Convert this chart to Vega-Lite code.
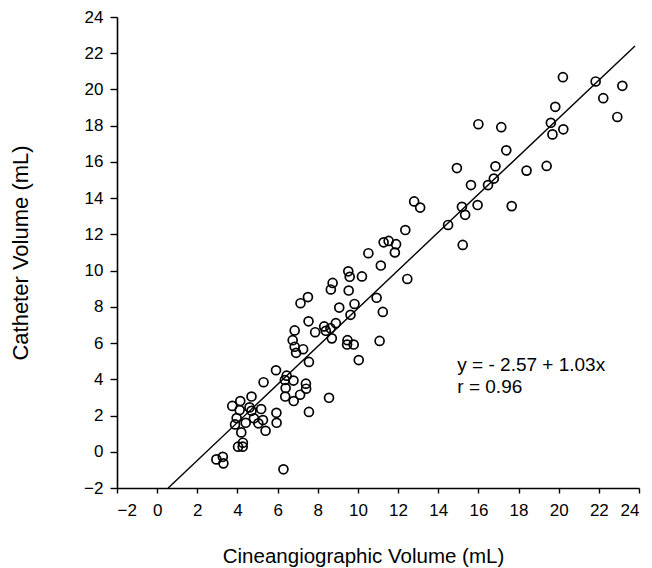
{
  "$schema": "https://vega.github.io/schema/vega-lite/v6.json",
  "width": 522,
  "height": 471,
  "autosize": {"type": "none"},
  "padding": {"left": 117, "top": 17, "right": 13, "bottom": 80},
  "background": "white",
  "config": {
    "view": {"stroke": null},
    "font": "Liberation Sans",
    "axis": {
      "grid": false,
      "domainColor": "black",
      "domainWidth": 1.6,
      "tickColor": "black",
      "tickWidth": 1.4,
      "labelColor": "black",
      "titleColor": "black",
      "labelFont": "Liberation Sans",
      "titleFont": "Liberation Sans",
      "labelFontSize": 17,
      "labelOverlap": false,
      "labelBound": false,
      "titleFontWeight": "normal"
    }
  },
  "datasets": {
    "pts": [
      {"cine": 2.95, "cath": -0.42}, {"cine": 3.27, "cath": -0.28}, {"cine": 3.3, "cath": -0.64}, {"cine": 6.29, "cath": -0.97},
      {"cine": 4.03, "cath": 0.28}, {"cine": 4.26, "cath": 0.28}, {"cine": 4.27, "cath": 0.5}, {"cine": 4.19, "cath": 1.07},
      {"cine": 3.74, "cath": 2.53}, {"cine": 4.14, "cath": 2.8}, {"cine": 4.11, "cath": 2.3}, {"cine": 3.96, "cath": 1.86},
      {"cine": 3.88, "cath": 1.51}, {"cine": 4.41, "cath": 1.6}, {"cine": 4.7, "cath": 3.05}, {"cine": 4.6, "cath": 2.45},
      {"cine": 4.7, "cath": 2.26}, {"cine": 4.82, "cath": 1.85}, {"cine": 5.04, "cath": 1.57}, {"cine": 5.18, "cath": 2.36},
      {"cine": 5.27, "cath": 1.75}, {"cine": 5.4, "cath": 1.16}, {"cine": 5.3, "cath": 3.84}, {"cine": 5.94, "cath": 2.15},
      {"cine": 5.95, "cath": 1.6}, {"cine": 5.92, "cath": 4.5}, {"cine": 6.36, "cath": 3.96}, {"cine": 6.45, "cath": 4.2},
      {"cine": 6.4, "cath": 3.52}, {"cine": 6.38, "cath": 3.05}, {"cine": 6.79, "cath": 3.93}, {"cine": 6.8, "cath": 2.8},
      {"cine": 7.12, "cath": 3.15}, {"cine": 7.41, "cath": 3.76}, {"cine": 7.42, "cath": 3.48}, {"cine": 7.56, "cath": 2.2},
      {"cine": 7.56, "cath": 4.96}, {"cine": 8.56, "cath": 2.98}, {"cine": 6.75, "cath": 6.16}, {"cine": 6.85, "cath": 6.7},
      {"cine": 6.85, "cath": 5.8}, {"cine": 6.92, "cath": 5.46}, {"cine": 7.27, "cath": 5.66}, {"cine": 7.14, "cath": 8.2},
      {"cine": 7.51, "cath": 8.54}, {"cine": 7.54, "cath": 7.2}, {"cine": 7.87, "cath": 6.6}, {"cine": 8.32, "cath": 6.92},
      {"cine": 8.4, "cath": 6.68}, {"cine": 8.63, "cath": 6.82}, {"cine": 8.7, "cath": 6.26}, {"cine": 8.9, "cath": 7.1},
      {"cine": 9.07, "cath": 7.96}, {"cine": 8.65, "cath": 8.96}, {"cine": 8.74, "cath": 9.32}, {"cine": 9.63, "cath": 7.56},
      {"cine": 9.83, "cath": 8.16}, {"cine": 9.54, "cath": 8.9}, {"cine": 9.48, "cath": 6.16}, {"cine": 9.46, "cath": 5.92},
      {"cine": 9.79, "cath": 5.92}, {"cine": 10.04, "cath": 5.06}, {"cine": 9.52, "cath": 9.96}, {"cine": 9.59, "cath": 9.66},
      {"cine": 10.2, "cath": 9.68}, {"cine": 10.52, "cath": 10.96}, {"cine": 10.93, "cath": 8.5}, {"cine": 11.24, "cath": 7.72},
      {"cine": 11.08, "cath": 6.12}, {"cine": 11.14, "cath": 10.28}, {"cine": 11.28, "cath": 11.56}, {"cine": 11.53, "cath": 11.64},
      {"cine": 11.9, "cath": 11.46}, {"cine": 11.84, "cath": 11.0}, {"cine": 12.36, "cath": 12.24}, {"cine": 12.46, "cath": 9.54},
      {"cine": 12.8, "cath": 13.82}, {"cine": 13.1, "cath": 13.48}, {"cine": 14.49, "cath": 12.52}, {"cine": 14.93, "cath": 15.66},
      {"cine": 15.18, "cath": 13.52}, {"cine": 15.34, "cath": 13.08}, {"cine": 15.22, "cath": 11.42}, {"cine": 15.63, "cath": 14.72},
      {"cine": 15.96, "cath": 13.62}, {"cine": 16.0, "cath": 18.08}, {"cine": 16.48, "cath": 14.72}, {"cine": 16.77, "cath": 15.08},
      {"cine": 16.85, "cath": 15.76}, {"cine": 17.14, "cath": 17.92}, {"cine": 17.39, "cath": 16.64}, {"cine": 17.66, "cath": 13.56},
      {"cine": 18.4, "cath": 15.52}, {"cine": 19.4, "cath": 15.78}, {"cine": 19.61, "cath": 18.16}, {"cine": 19.69, "cath": 17.52},
      {"cine": 19.83, "cath": 19.04}, {"cine": 20.23, "cath": 17.8}, {"cine": 20.21, "cath": 20.68}, {"cine": 21.84, "cath": 20.44},
      {"cine": 22.22, "cath": 19.52}, {"cine": 22.92, "cath": 18.48}, {"cine": 23.17, "cath": 20.2}
    ],
    "fit": [
      {"cine": 0.55, "cath": -2.0},
      {"cine": 23.8, "cath": 22.4}
    ],
    "notes": [
      {"cine": 14.95, "cath": 4.47, "label": "y =  - 2.57 + 1.03x"},
      {"cine": 14.95, "cath": 3.23, "label": "r = 0.96"}
    ]
  },
  "layer": [
    {
      "data": {"name": "fit"},
      "mark": {"type": "line", "color": "black", "strokeWidth": 1.4},
      "encoding": {
        "x": {
          "field": "cine", "type": "quantitative",
          "scale": {"domain": [-2, 24], "nice": false, "zero": false},
          "axis": {
            "values": [-2, 0, 2, 4, 6, 8, 10, 12, 14, 16, 18, 20, 22, 24],
            "title": "Cineangiographic Volume (mL)",
            "titleFontSize": 20.5,
            "titleX": 246,
            "titleY": 74,
            "titleAlign": "center",
            "titleBaseline": "alphabetic",
            "tickSize": 5,
            "labelPadding": 9,
            "labelOverlap": false
          }
        },
        "y": {
          "field": "cath", "type": "quantitative",
          "scale": {"domain": [-2, 24], "nice": false, "zero": false},
          "axis": {
            "values": [-2, 0, 2, 4, 6, 8, 10, 12, 14, 16, 18, 20, 22, 24],
            "title": "Catheter Volume (mL)",
            "titleFontSize": 22,
            "titleX": -90,
            "titleAngle": -90,
            "titleBaseline": "alphabetic",
            "tickSize": 7,
            "labelPadding": 7,
            "labelOverlap": false,
            "tickCount": 14
          }
        }
      }
    },
    {
      "data": {"name": "pts"},
      "mark": {"type": "point", "shape": "circle", "filled": false, "stroke": "black", "strokeWidth": 1.7, "size": 80, "opacity": 1},
      "encoding": {
        "x": {"field": "cine", "type": "quantitative"},
        "y": {"field": "cath", "type": "quantitative"}
      }
    },
    {
      "data": {"name": "notes"},
      "mark": {"type": "text", "align": "left", "baseline": "alphabetic", "fontSize": 19, "font": "Liberation Sans", "color": "black"},
      "encoding": {
        "x": {"field": "cine", "type": "quantitative"},
        "y": {"field": "cath", "type": "quantitative"},
        "text": {"field": "label"}
      }
    }
  ]
}
